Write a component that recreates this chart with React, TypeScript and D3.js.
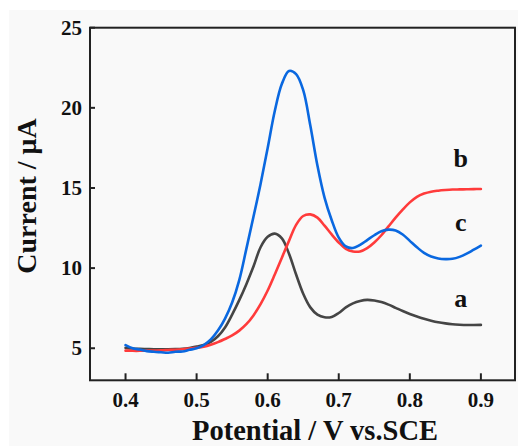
import React from "react";
import * as d3 from "d3";

// Potential sweep (V vs. SCE)
const potentials: number[] = d3.range(0, 51).map((i) => +(0.4 + i * 0.01).toFixed(2));

// Curve a
const currentA: number[] = [
  5.02, 4.98, 4.96, 4.95, 4.94, 4.94, 4.94, 4.95, 4.97, 5.02,
  5.10, 5.20, 5.40, 5.75, 6.30, 7.10, 8.00, 9.00, 10.10, 11.30,
  11.95, 12.15, 11.85, 10.90, 9.60, 8.40, 7.55, 7.10, 6.93, 6.95,
  7.20, 7.55, 7.80, 7.95, 8.02, 7.98, 7.88, 7.72, 7.52, 7.32,
  7.14, 6.98, 6.84, 6.72, 6.62, 6.55, 6.50, 6.47, 6.45, 6.45,
  6.46,
];

// Curve b
const currentB: number[] = [
  4.85, 4.84, 4.84, 4.85, 4.86, 4.87, 4.89, 4.91, 4.94, 4.98,
  5.03, 5.10, 5.22, 5.38, 5.58, 5.80, 6.10, 6.50, 7.05, 7.75,
  8.60, 9.60, 10.65, 11.70, 12.70, 13.25, 13.35, 13.15, 12.65, 12.10,
  11.60, 11.20, 11.04, 11.04, 11.25, 11.60, 12.05, 12.60, 13.15, 13.65,
  14.10, 14.45, 14.65, 14.77, 14.83, 14.87, 14.90, 14.91, 14.92, 14.93,
  14.94,
];

// Curve c
const currentC: number[] = [
  5.20, 5.00, 4.92, 4.82, 4.78, 4.75, 4.72, 4.78, 4.80, 4.90,
  5.00, 5.20, 5.55, 6.10, 6.85, 7.85, 9.25, 11.20, 13.20, 15.25,
  17.50, 19.80, 21.50, 22.30, 22.10, 21.10, 18.90, 16.40, 14.40, 13.00,
  11.90, 11.35, 11.25, 11.45, 11.75, 12.05, 12.30, 12.40, 12.35, 12.10,
  11.70, 11.30, 10.95, 10.72, 10.60, 10.56, 10.58, 10.70, 10.90, 11.15,
  11.40,
];

const xTicks: number[] = [0.4, 0.5, 0.6, 0.7, 0.8, 0.9];
const yTicks: number[] = [5, 10, 15, 20, 25];

const seriesNames: string[] = ["a", "b", "c"];
const seriesValues: number[][] = [currentA, currentB, currentC];
const seriesColors: string[] = ["#454545", "#ff3b3b", "#0a68e0"];
const labelPositions: [number, number][] = [
  [0.866, 7.6],
  [0.866, 16.3],
  [0.866, 12.3],
];

const W = 518;
const H = 446;
const left = 90;
const right = 515;
const top = 27.7;
const bottom = 380.3;
const serif = "'Liberation Serif', 'Times New Roman', serif";

export default function App() {
  const x = d3.scaleLinear().domain([0.35, 0.948]).range([left, right]);
  const y = d3.scaleLinear().domain([3, 25]).range([bottom, top]);

  const line = d3
    .line<[number, number]>()
    .x((d) => x(d[0]))
    .y((d) => y(d[1]))
    .curve(d3.curveCatmullRom.alpha(0.5));

  return (
    <svg
      width={W}
      height={H}
      style={{ position: "absolute", left: 0, top: 0 }}
      fontFamily={serif}
    >
      <rect x={0} y={0} width={W} height={H} fill="#ffffff" />
      <rect x={9} y={10} width={W - 9} height={H - 10} fill="#f9f9f9" />

      {seriesValues.map((vals, i) => (
        <path
          key={seriesNames[i]}
          d={line(potentials.map((p, j) => [p, vals[j]] as [number, number])) || ""}
          fill="none"
          stroke={seriesColors[i]}
          strokeWidth={2.6}
          strokeLinejoin="round"
          strokeLinecap="round"
        />
      ))}

      {/* frame */}
      <rect
        x={left}
        y={top}
        width={right - left}
        height={bottom - top}
        fill="none"
        stroke="#222"
        strokeWidth={2}
      />

      {/* x axis ticks and labels */}
      {xTicks.map((t) => (
        <g key={"x" + t}>
          <line x1={x(t)} x2={x(t)} y1={bottom} y2={bottom - 7} stroke="#222" strokeWidth={2} />
          <text
            x={x(t)}
            y={406.5}
            textAnchor="middle"
            fontSize={21}
            fontWeight="bold"
            fill="#111"
          >
            {t.toFixed(1)}
          </text>
        </g>
      ))}

      {/* y axis ticks and labels */}
      {yTicks.map((t) => (
        <g key={"y" + t}>
          <line x1={left} x2={left + 5} y1={y(t)} y2={y(t)} stroke="#222" strokeWidth={2} />
          <text
            x={82}
            y={y(t) + 7}
            textAnchor="end"
            fontSize={21}
            fontWeight="bold"
            fill="#111"
          >
            {t}
          </text>
        </g>
      ))}

      {/* curve labels */}
      {seriesNames.map((n, i) => (
        <text
          key={"lbl" + n}
          x={x(labelPositions[i][0]) + 4}
          y={y(labelPositions[i][1])}
          textAnchor="middle"
          fontSize={26}
          fontWeight="bold"
          fill="#111"
        >
          {n}
        </text>
      ))}

      {/* axis titles */}
      <text
        x={315}
        y={440}
        textAnchor="middle"
        fontSize={28.5}
        fontWeight="bold"
        fill="#111"
      >
        Potential / V vs.SCE
      </text>
      <text
        transform={`translate(36, 196) rotate(-90)`}
        textAnchor="middle"
        fontSize={28}
        fontWeight="bold"
        fill="#111"
      >
        Current / μA
      </text>
    </svg>
  );
}
